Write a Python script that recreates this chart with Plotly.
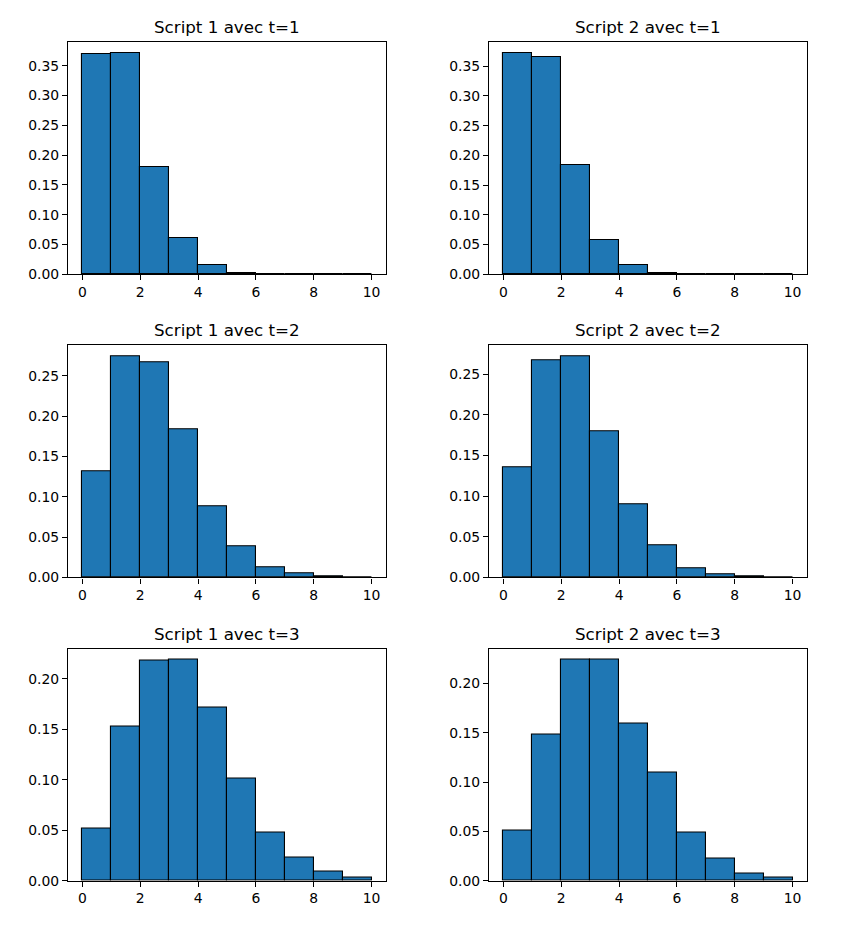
import plotly.graph_objects as go

bin_edges = [0, 1, 2, 3, 4, 5, 6, 7, 8, 9, 10]
x_ticks = [0, 2, 4, 6, 8, 10]

titles = ["Script 1 avec t=1", "Script 2 avec t=1",
          "Script 1 avec t=2", "Script 2 avec t=2",
          "Script 1 avec t=3", "Script 2 avec t=3"]

s1_t1 = [0.369, 0.371, 0.179, 0.060, 0.016, 0.002, 0.0004, 0.0001, 0.0, 0.0]
s2_t1 = [0.372, 0.366, 0.184, 0.057, 0.015, 0.002, 0.0004, 0.0001, 0.0, 0.0]
s1_t2 = [0.131, 0.274, 0.267, 0.183, 0.088, 0.038, 0.013, 0.0046, 0.001, 0.0002]
s2_t2 = [0.136, 0.267, 0.272, 0.180, 0.090, 0.039, 0.011, 0.0045, 0.001, 0.0002]
s1_t3 = [0.052, 0.153, 0.218, 0.219, 0.172, 0.101, 0.048, 0.023, 0.0086, 0.0036]
s2_t3 = [0.0505, 0.148, 0.2244, 0.2244, 0.160, 0.110, 0.0485, 0.022, 0.0075, 0.0037]

series = [s1_t1, s2_t1, s1_t2, s2_t2, s1_t3, s2_t3]

# page has an 8px body margin; figure is sized to fit inside it
OFF = 8
W, H = 853 - 2 * OFF, 931 - 2 * OFF
SY = 1.0095  # small vertical correction observed in rendering
col_px = [(68, 386), (489, 807)]
row_px = [(42, 274), (345, 577), (648, 880)]

fig = go.Figure()
for i, vals in enumerate(series):
    r, c = divmod(i, 2)
    n = i + 1
    xa = "x" if n == 1 else f"x{n}"
    ya = "y" if n == 1 else f"y{n}"
    centers = [(bin_edges[k] + bin_edges[k + 1]) / 2 for k in range(len(vals))]
    widths = [bin_edges[k + 1] - bin_edges[k] for k in range(len(vals))]
    fig.add_trace(go.Bar(x=centers, y=vals, width=widths,
                         marker=dict(color="#1f77b4", line=dict(color="black", width=1.1)),
                         xaxis=xa, yaxis=ya, showlegend=False, hoverinfo="skip"))
    x0, x1 = col_px[c]
    y0, y1 = row_px[r]
    xd = [(x0 - OFF) / W, (x1 - OFF) / W]
    yd = [1 - (y1 * SY - OFF) / H, 1 - (y0 * SY - OFF) / H]
    axcommon = dict(showline=True, mirror=True, linecolor="black", linewidth=1.1,
                    ticks="outside", ticklen=5, tickwidth=1.1, tickcolor="black",
                    showgrid=False, zeroline=False,
                    tickfont=dict(family="DejaVu Sans", size=13.9, color="black"))
    fig.layout[f"xaxis{n if n > 1 else ''}"] = dict(domain=xd, anchor=ya, range=[-0.5, 10.5],
                                                  tickvals=x_ticks, **axcommon)
    ymax = max(vals) * 1.05
    fig.layout[f"yaxis{n if n > 1 else ''}"] = dict(domain=yd, anchor=xa, range=[0, ymax],
                                                  dtick=0.05, tickformat=".2f", **axcommon)
    fig.add_annotation(text=titles[i], x=(xd[0] + xd[1]) / 2, y=yd[1], xref="paper", yref="paper",
                       xanchor="center", yanchor="bottom", yshift=3, showarrow=False,
                       font=dict(family="DejaVu Sans", size=16.7, color="black"))

fig.update_layout(width=W, height=H, autosize=False, margin=dict(l=0, r=0, t=0, b=0),
                  plot_bgcolor="white", paper_bgcolor="white", bargap=0)
fig.write_html("out.html", config={"displayModeBar": False})
